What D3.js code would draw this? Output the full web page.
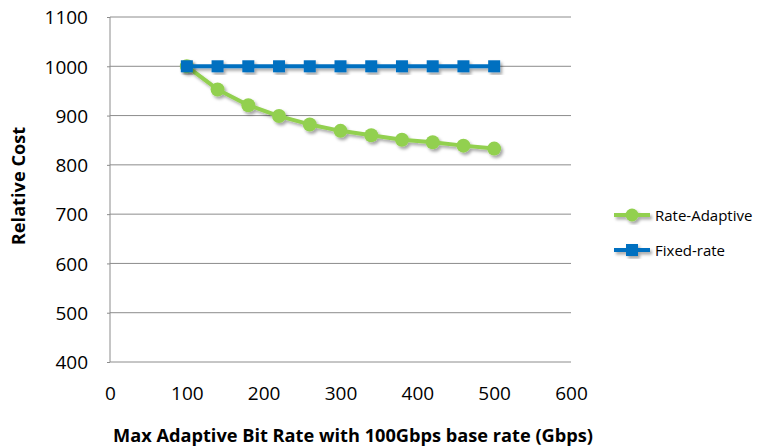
<!DOCTYPE html>
<html>
<head>
<meta charset="utf-8">
<script src="https://cdn.jsdelivr.net/npm/d3@7"></script>
<style>
  html, body { margin: 0; padding: 0; background: #fff; }
  svg { display: block; font-family: "Open Sans", sans-serif; }
</style>
</head>
<body>
<svg id="chart" width="757" height="446"></svg>
<script>
// Relative cost vs. max adaptive bit rate
const bitRates = [100, 140, 180, 220, 260, 300, 340, 380, 420, 460, 500];
const rateAdaptive = [1000, 953, 921, 899, 882, 869, 860, 851, 846, 839, 833];
const fixedRate = [1000, 1000, 1000, 1000, 1000, 1000, 1000, 1000, 1000, 1000, 1000];
const xTicks = [0, 100, 200, 300, 400, 500, 600];
const yTicks = [400, 500, 600, 700, 800, 900, 1000, 1100];
const seriesNames = ["Rate-Adaptive", "Fixed-rate"];

const green = "#92D050";
const blue = "#0070C0";
const font = "'Open Sans', sans-serif";

const svg = d3.select("#chart");
const plot = { left: 110, right: 571, top: 17, bottom: 362 };

const x = d3.scaleLinear().domain([0, 600]).range([plot.left, plot.right]);
const y = d3.scaleLinear().domain([400, 1100]).range([plot.bottom, plot.top]);

// soft drop shadow under the series
const defs = svg.append("defs");
const f = defs.append("filter").attr("id", "shadow")
  .attr("x", "-20%").attr("y", "-20%").attr("width", "140%").attr("height", "140%");
f.append("feDropShadow").attr("dx", 2).attr("dy", 2.5).attr("stdDeviation", 1.6)
  .attr("flood-color", "#000").attr("flood-opacity", 0.35);

// horizontal gridlines
svg.append("g").selectAll("line").data(yTicks).join("line")
  .attr("x1", plot.left).attr("x2", plot.right)
  .attr("y1", d => y(d)).attr("y2", d => y(d))
  .attr("stroke", "#8c8c8c").attr("stroke-width", 1);

// left axis line
svg.append("line")
  .attr("x1", plot.left).attr("x2", plot.left)
  .attr("y1", plot.top).attr("y2", plot.bottom)
  .attr("stroke", "#8c8c8c").attr("stroke-width", 1);

// y axis tick marks and labels
const yAxis = d3.axisLeft(y).tickValues(yTicks).tickFormat(d3.format("d"))
  .tickSize(3).tickPadding(19);
const gy = svg.append("g").attr("transform", `translate(${plot.left},0)`).call(yAxis);
gy.select(".domain").remove();
gy.selectAll(".tick line").attr("stroke", "#8c8c8c");
gy.selectAll(".tick text").attr("font-size", 19).attr("fill", "#000")
  .attr("font-family", font).attr("dy", "0.36em");

// x axis labels (no tick marks)
const xAxis = d3.axisBottom(x).tickValues(xTicks).tickFormat(d3.format("d"))
  .tickSize(0).tickPadding(25);
const gx = svg.append("g").attr("transform", `translate(0,${plot.bottom})`).call(xAxis);
gx.select(".domain").remove();
gx.selectAll(".tick text").attr("font-size", 19).attr("fill", "#000")
  .attr("font-family", font);

// axis titles
svg.append("text")
  .attr("x", 353).attr("y", 442)
  .attr("text-anchor", "middle").attr("font-size", 18.2).attr("font-weight", "bold")
  .text("Max Adaptive Bit Rate with 100Gbps base rate (Gbps)");
svg.append("text")
  .attr("transform", `translate(25,186) rotate(-90)`)
  .attr("text-anchor", "middle").attr("font-size", 18.2).attr("font-weight", "bold")
  .text("Relative Cost");

const line = d3.line().x(d => x(d[0])).y(d => y(d[1]));

// Rate-Adaptive series
const greenPts = bitRates.map((b, i) => [b, rateAdaptive[i]]);
const gGreen = svg.append("g").attr("filter", "url(#shadow)");
gGreen.append("path")
  .datum(greenPts)
  .attr("d", line).attr("fill", "none")
  .attr("stroke", green).attr("stroke-width", 4).attr("stroke-linejoin", "round");
gGreen.selectAll("circle").data(greenPts).join("circle")
  .attr("cx", d => x(d[0])).attr("cy", d => y(d[1])).attr("r", 7).attr("fill", green);

// Fixed-rate series
const bluePts = bitRates.map((b, i) => [b, fixedRate[i]]);
const gBlue = svg.append("g").attr("filter", "url(#shadow)");
gBlue.append("path")
  .datum(bluePts)
  .attr("d", line).attr("fill", "none")
  .attr("stroke", blue).attr("stroke-width", 4);
gBlue.selectAll("rect").data(bluePts).join("rect")
  .attr("x", d => x(d[0]) - 6).attr("y", d => y(d[1]) - 6)
  .attr("width", 12).attr("height", 12).attr("fill", blue);

// legend
const legend = svg.append("g");
const legendRows = [
  { name: seriesNames[0], color: green, shape: "circle", yPos: 215 },
  { name: seriesNames[1], color: blue, shape: "square", yPos: 250 }
];
legendRows.forEach(r => {
  const g = legend.append("g").attr("filter", "url(#shadow)");
  g.append("line").attr("x1", 614).attr("x2", 650).attr("y1", r.yPos).attr("y2", r.yPos)
    .attr("stroke", r.color).attr("stroke-width", 4);
  if (r.shape === "circle") {
    g.append("circle").attr("cx", 632).attr("cy", r.yPos).attr("r", 6.5).attr("fill", r.color);
  } else {
    g.append("rect").attr("x", 626).attr("y", r.yPos - 6).attr("width", 12).attr("height", 12)
      .attr("fill", r.color);
  }
  legend.append("text").attr("x", 655).attr("y", r.yPos + 5.5)
    .attr("font-size", 15).attr("fill", "#000").text(r.name);
});
</script>
</body>
</html>
